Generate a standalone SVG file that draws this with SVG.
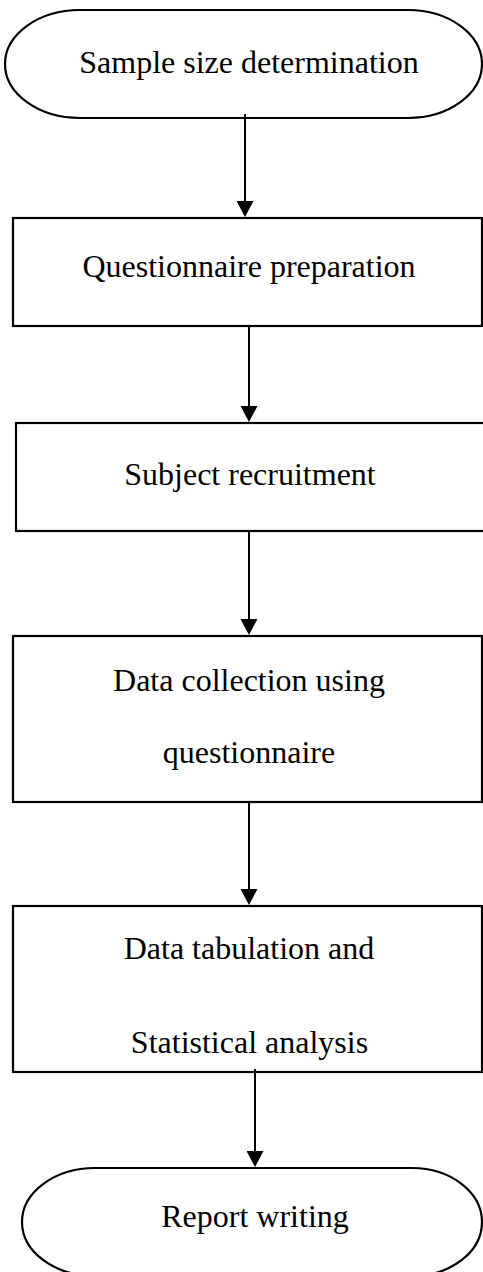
<svg xmlns="http://www.w3.org/2000/svg" width="483" height="1272" viewBox="0 0 483 1272">
<style>
.shape{fill:#fff;stroke:#000;stroke-width:2.2}
.lbl{font-family:"Liberation Serif","Times New Roman",serif;font-size:32px;fill:#000;text-anchor:middle}
.conn{stroke:#000;stroke-width:2;fill:none;marker-end:url(#ah)}
</style>
<defs>
<marker id="ah" markerUnits="userSpaceOnUse" viewBox="0 0 16 17" markerWidth="16" markerHeight="17" refX="2" refY="8.5" orient="auto">
<path d="M0,0 L16,8.5 L0,17 z" fill="#000"/>
</marker>
</defs>
<rect width="483" height="1272" fill="#fff"/>
<g id="n1">
<path class="shape" d="M80 10 H408 A74 54 0 0 1 408 118 H80 A75 54 0 0 1 80 10 Z"/>
<text class="lbl" x="249" y="73">Sample size determination</text>
</g>
<g id="n2">
<rect class="shape" x="13" y="218" width="469" height="108"/>
<text class="lbl" x="249" y="277">Questionnaire preparation</text>
</g>
<g id="n3">
<rect class="shape" x="16" y="423" width="472" height="108"/>
<text class="lbl" x="250" y="485">Subject recruitment</text>
</g>
<g id="n4">
<rect class="shape" x="13" y="636" width="469" height="166"/>
<text class="lbl" x="249" y="691">Data collection using</text>
<text class="lbl" x="249" y="763">questionnaire</text>
</g>
<g id="n5">
<rect class="shape" x="13" y="906" width="469" height="166"/>
<text class="lbl" x="249" y="959">Data tabulation and</text>
<text class="lbl" x="249.5" y="1053">Statistical analysis</text>
</g>
<g id="n6">
<path class="shape" d="M95 1168 H412 A70 54 0 0 1 412 1276 H95 A73 54 0 0 1 95 1168 Z"/>
<text class="lbl" x="255" y="1227">Report writing</text>
</g>
<g id="connectors">
<line class="conn" x1="245" y1="114" x2="245" y2="203"/>
<line class="conn" x1="249" y1="326" x2="249" y2="408"/>
<line class="conn" x1="249" y1="531" x2="249" y2="621"/>
<line class="conn" x1="249" y1="802" x2="249" y2="891"/>
<line class="conn" x1="255" y1="1069" x2="255" y2="1153"/>
</g>
</svg>
